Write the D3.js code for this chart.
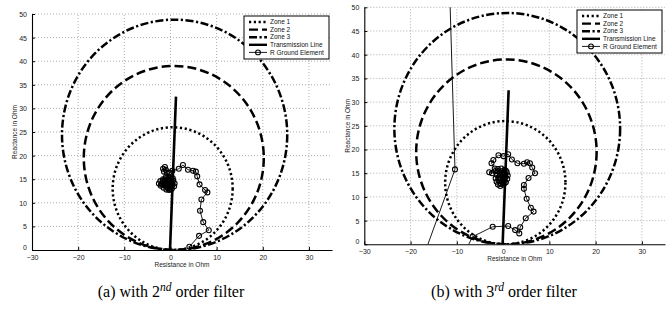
<!DOCTYPE html>
<html>
<head>
<meta charset="utf-8">
<title>mho</title>
<script src="https://cdn.jsdelivr.net/npm/d3@7"></script>
<style>
	body{margin:0;background:#fff;}
	text{font-family:"Liberation Sans",Arial,sans-serif;}
	.cap{font-family:"Liberation Serif","Times New Roman",serif;}
</style>
</head>
<body>
<script>
// axis ranges and ticks
var xDomain=[-30,35], yDomain=[0,50];
var xTicks=[-30,-20,-10,0,10,20,30];
var yTicks=[0,5,10,15,20,25,30,35,40,45,50];

// mho zones (center R, center X, radius) in Ohm
var zoneNames=["Zone 1","Zone 2","Zone 3"];
var zoneCx=[0.48,0.72,0.9];
var zoneCy=[13.0,19.5,24.4];
var zoneR=[13.0,19.5,24.4];

// transmission line impedance
var lineR=[-0.1,1.2];
var lineX=[0,32.5];

// R ground element trajectory, 2nd order filter
var trA_R=[4.1,6.2,8.3,7.1,6.4,6.7,8.0,7.5,6.3,5.8,5.5,4.9,3.8,2.7,1.8,0.4,-0.2,
	-1.2,-1.6,-1.0,-1.4,-0.8,-0.4,-1.0,-1.6,-2.2,-2.5,-2.1,-1.5,-0.9,-0.3,0.3,0.8,0.9,0.6,0.1,-0.5,
	-1.1,-1.7,-1.9,-1.3,-0.7,-0.1,0.4,0.3,-0.3,-0.9,-1.4,-0.8,-0.4,0.0,-0.6,-1.2,-0.2,0.5,-0.1,-0.6];
var trA_X=[0.7,3.0,4.2,5.9,8.3,10.7,12.2,12.7,13.9,15.6,16.6,16.8,17.0,18.0,17.2,16.8,16.4,
	17.6,17.2,17.0,16.6,16.3,15.6,15.4,15.0,14.6,14.1,13.6,13.2,12.8,12.7,13.0,13.5,14.1,14.7,15.1,14.9,
	14.6,14.3,13.9,13.7,13.4,13.5,13.9,14.4,14.3,14.1,14.0,13.8,13.9,14.1,14.5,15.0,15.3,15.2,12.9,13.1];

// R ground element trajectory, 3rd order filter
var trB_R=[-11.5,-10.4,-16.8,-8.2,-6.6,-2.25,1.1,2.6,3.5,3.7,4.9,6.6,6.0,5.1,4.5,4.5,5.5,6.9,6.3,5.8,5.2,4.5,3.1,1.9,1.1,0.1,-1.0,-2.1,-2.5,-1.8,-3.0,
	-2.4,-1.7,-1.1,-0.4,0.3,0.8,1.0,0.9,0.6,0.0,-0.6,-1.1,-1.4,-1.6,-1.3,-0.8,-0.2,0.4,0.5,0.2,-0.3,-0.8,-1.0,-0.6,-0.1,0.1,-0.4,-0.5,0.3,-1.2,0.6];
var trB_X=[52,15.8,-1.5,-1.5,1.6,3.7,3.85,3.0,2.3,3.6,5.5,6.9,7.7,9.6,11.7,12.5,14.0,15.0,16.2,17.1,17.3,17.0,17.1,17.9,19.0,18.6,18.8,17.8,17.1,16.0,15.2,
	15.0,15.4,15.9,16.0,15.7,15.2,14.5,13.8,13.1,12.6,12.3,12.6,13.2,13.9,14.6,15.1,15.2,14.9,14.2,13.6,13.2,13.5,14.1,14.6,14.5,14.0,13.9,12.8,12.9,15.4,15.5];

var legendNames=["Zone 1","Zone 2","Zone 3","Transmission Line","R Ground Element"];
var captions=[["(a) with 2","nd"," order filter"],["(b) with 3","rd"," order filter"]];

var zoneDash=["2.2,2.6","9,4","8,2.5,2.2,2.5"];

var W=671,H=309;
var svg=d3.select("body").append("svg").attr("width",W).attr("height",H);

var panels=[
	{x0:32,x1:332,y0:250,y1:14,tr:[trA_R,trA_X],leg:[244,16],ylab:15,xlab:267,cap:[171,297]},
	{x0:364.3,x1:665,y0:244.3,y1:7.3,tr:[trB_R,trB_X],leg:[577,10],ylab:348,xlab:261,cap:[504,297]}
];

panels.forEach(function(p,pi){
	var x=d3.scaleLinear().domain(xDomain).range([p.x0,p.x1]);
	var y=d3.scaleLinear().domain(yDomain).range([p.y0,p.y1]);
	var g=svg.append("g");

	svg.append("clipPath").attr("id","clip"+pi).append("rect")
		.attr("x",p.x0).attr("y",p.y1).attr("width",p.x1-p.x0).attr("height",p.y0-p.y1);

	// grid
	g.selectAll(".gx").data(xTicks.slice(1)).enter().append("line")
		.attr("x1",function(d){return x(d);}).attr("x2",function(d){return x(d);})
		.attr("y1",p.y0).attr("y2",p.y1)
		.attr("stroke","#888").attr("stroke-width",0.7).attr("stroke-dasharray","1,2");
	g.selectAll(".gy").data(yTicks.slice(1)).enter().append("line")
		.attr("y1",function(d){return y(d);}).attr("y2",function(d){return y(d);})
		.attr("x1",p.x0).attr("x2",p.x1)
		.attr("stroke","#888").attr("stroke-width",0.7).attr("stroke-dasharray","1,2");

	// axes
	var ax=g.append("g").attr("transform","translate(0,"+p.y0+")")
		.call(d3.axisBottom(x).tickValues(xTicks).tickSizeInner(-3).tickSizeOuter(0).tickPadding(6));
	var ay=g.append("g").attr("transform","translate("+p.x0+",0)")
		.call(d3.axisLeft(y).tickValues(yTicks).tickSizeInner(-3).tickSizeOuter(0).tickPadding(5));
	[ax,ay].forEach(function(a){
		a.select(".domain").attr("stroke","#000").attr("stroke-width",1.1);
		a.selectAll("text").attr("font-size","7px").attr("fill","#222").attr("font-family","Liberation Sans, Arial, sans-serif");
	});
	ax.selectAll("text").attr("dy","0.55em");
	ay.selectAll("text").attr("dy","0.35em");
	ay.selectAll(".tick").filter(function(d){return d===0;}).select("text").attr("dy","-0.05em");

	g.append("text").attr("x",(p.x0+p.x1)/2).attr("y",p.xlab).attr("text-anchor","middle")
		.attr("font-size","6.5px").attr("fill","#222").text("Resistance in Ohm");
	g.append("text").attr("transform","translate("+p.ylab+","+((p.y0+p.y1)/2)+") rotate(-90)")
		.attr("text-anchor","middle").attr("dy","0.35em")
		.attr("font-size","6.5px").attr("fill","#222").text("Reactance in Ohm");

	var plot=g.append("g").attr("clip-path","url(#clip"+pi+")");

	// zones
	plot.selectAll(".zone").data(zoneNames).enter().append("ellipse")
		.attr("cx",function(d,i){return x(zoneCx[i]);})
		.attr("cy",function(d,i){return y(zoneCy[i]);})
		.attr("rx",function(d,i){return x(zoneCx[i]+zoneR[i])-x(zoneCx[i]);})
		.attr("ry",function(d,i){return y(zoneCy[i])-y(zoneCy[i]+zoneR[i]);})
		.attr("fill","none").attr("stroke","#000").attr("stroke-width",2.5)
		.attr("stroke-dasharray",function(d,i){return zoneDash[i];});

	// transmission line
	plot.append("line")
		.attr("x1",x(lineR[0])).attr("y1",y(lineX[0]))
		.attr("x2",x(lineR[1])).attr("y2",y(lineX[1]))
		.attr("stroke","#000").attr("stroke-width",2.6);

	// trajectory
	var pts=p.tr[0].map(function(r,i){return [r,p.tr[1][i]];});
	plot.append("path").datum(pts)
		.attr("d",d3.line().x(function(d){return x(d[0]);}).y(function(d){return y(d[1]);}))
		.attr("fill","none").attr("stroke","#000").attr("stroke-width",0.9);
	plot.selectAll(".mk").data(pts).enter().append("circle")
		.attr("cx",function(d){return x(d[0]);}).attr("cy",function(d){return y(d[1]);})
		.attr("r",2.5).attr("fill","none").attr("stroke","#000").attr("stroke-width",1.1);

	// legend
	var lg=g.append("g").attr("transform","translate("+p.leg[0]+","+p.leg[1]+")");
	lg.append("rect").attr("width",85).attr("height",43).attr("fill","#fff").attr("stroke","#000").attr("stroke-width",1);
	var rows=lg.selectAll(".row").data(legendNames).enter().append("g")
		.attr("transform",function(d,i){return "translate(0,"+(6+i*7.6)+")";});
	rows.append("line").attr("x1",5).attr("x2",23).attr("y1",0).attr("y2",0)
		.attr("stroke","#000")
		.attr("stroke-width",function(d,i){return i<4?2.4:0.9;})
		.attr("stroke-dasharray",function(d,i){return i<3?zoneDash[i]:null;});
	rows.filter(function(d,i){return i===4;}).append("circle")
		.attr("cx",14).attr("cy",0).attr("r",2.4).attr("fill","none").attr("stroke","#000").attr("stroke-width",1.1);
	rows.append("text").attr("x",26).attr("y",0).attr("dy","0.35em")
		.attr("font-size","6.5px").attr("fill","#111").text(function(d){return d;});

	// caption
	var c=svg.append("text").attr("class","cap").attr("x",p.cap[0]).attr("y",p.cap[1])
		.attr("text-anchor","middle").attr("font-size","16px").attr("fill","#000");
	c.append("tspan").text(captions[pi][0]);
	c.append("tspan").attr("font-style","italic").attr("font-size","11.5px").attr("dy","-6").text(captions[pi][1]);
	c.append("tspan").attr("dy","6").text(captions[pi][2]);
});
</script>
</body>
</html>
